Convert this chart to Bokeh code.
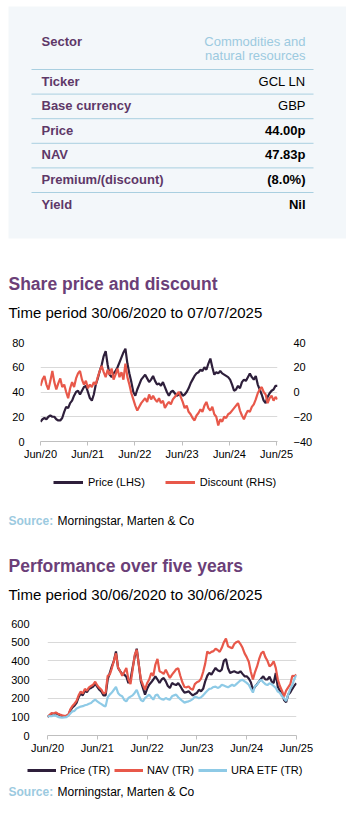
import pandas as pd
from bokeh.plotting import figure
from bokeh.models import (Range1d, LinearAxis, FixedTicker, DatetimeTickFormatter,
                          Legend, LegendItem, ColumnDataSource, Label)
from bokeh.layouts import column
from bokeh.embed import file_html
from bokeh.resources import INLINE
from bokeh.core.properties import value

# ---------------- data ----------------
sector_label = "Sector"
sector_value = ["Commodities and", "natural resources"]
row_labels = ["Ticker", "Base currency", "Price", "NAV", "Premium/(discount)", "Yield"]
row_values = ["GCL LN", "GBP", "44.00p", "47.83p", "(8.0%)", "Nil"]
row_value_styles = ["normal", "normal", "bold", "bold", "bold", "bold"]

tick_labels_years = [2020, 2021, 2022, 2023, 2024, 2025]

# Share price (p, LHS) and discount (%, RHS), 30/06/2020 - 07/07/2025, semi-monthly readings
price1 = [16, 18, 19, 18, 20, 21, 20, 20, 18, 17,
          17, 19, 24, 28, 27, 31, 33, 37, 40, 41,
          38, 41, 44, 45, 40, 35, 33, 38, 46, 51,
          57, 62, 69, 73, 62, 54, 52, 55, 57, 60,
          64, 68, 72, 75, 63, 55, 48, 40, 37, 42,
          46, 50, 52, 54, 51, 48, 50, 53, 49, 46,
          47, 45, 48, 44, 40, 37, 40, 41, 39, 37,
          38, 40, 37, 38, 40, 43, 47, 50, 53, 55,
          56, 58, 57, 60, 58, 63, 67, 60, 54, 56,
          55, 57, 55, 54, 53, 52, 50, 46, 41, 42,
          45, 43, 48, 50, 49, 52, 55, 52, 50, 53,
          46, 42, 38, 33, 31, 36, 39, 41, 42, 45,
          45]
disc1 = [5, 10, 13, 6, 2, 9, 17, 8, 2, 7,
         11, 4, 6, 0, -5, 3, 8, 4, 11, 15,
         17, 10, 6, 9, 3, 6, 4, 8, 6, 12,
         17, 21, 16, 12, 18, 14, 19, 10, 14, 19,
         12, 16, 10, 23, 12, 6, -1, -6, -11, -15,
         -12, -9, -7, -5, -8, -2, -6, -3, -6, -8,
         -5, -9, -7, -13, -10, -8, -10, -6, -4, -2,
         0, -4, -8, -13, -11, -16, -18, -21, -23, -19,
         -17, -14, -16, -11, -8, -13, -15, -12, -18, -20,
         -27, -22, -24, -20, -21, -18, -17, -15, -13, -11,
         -9, -15, -19, -22, -18, -15, -16, -12, -10, -6,
         -1, 2, 4, 0, -2, -9, -5, -3, -7, -4,
         -6]

# Performance (rebased to 100), 30/06/2020 - 30/06/2025, semi-monthly readings
price_tr = [100, 108, 118, 115, 120, 114, 110, 106, 103, 104,
            108, 135, 150, 160, 175, 205, 225, 215, 240, 232,
            250, 255, 262, 278, 260, 245, 235, 215, 215, 300,
            335, 370, 400, 450, 362, 345, 330, 326, 315, 281,
            300, 362, 420, 465, 380, 290, 254, 219, 250, 272,
            285, 300, 317, 300, 281, 300, 308, 290, 265, 254,
            281, 275, 270, 281, 265, 245, 230, 232, 237, 225,
            215, 222, 228, 245, 237, 250, 290, 320, 335, 326,
            345, 362, 350, 344, 353, 400, 410, 360, 335, 340,
            344, 338, 335, 344, 330, 317, 317, 305, 285, 245,
            262, 275, 290, 305, 317, 300, 300, 315, 290, 281,
            335, 260, 240, 228, 190, 178, 219, 230, 250, 268,
            280]
nav_tr = [100, 110, 120, 118, 124, 117, 112, 108, 105, 107,
          111, 140, 158, 170, 185, 215, 235, 225, 250, 240,
          258, 265, 272, 288, 268, 255, 245, 225, 230, 320,
          326, 360, 400, 440, 365, 345, 320, 340, 362, 300,
          275, 350, 430, 460, 380, 300, 272, 245, 280, 300,
          335, 320, 380, 410, 344, 338, 330, 353, 330, 308,
          326, 340, 355, 360, 320, 285, 260, 258, 263, 250,
          245, 275, 285, 290, 305, 340, 385, 450, 440, 448,
          452, 465, 458, 448, 470, 500, 520, 478, 472, 468,
          490, 500, 505, 490, 470, 440, 420, 395, 340, 300,
          340, 370, 410, 440, 450, 420, 400, 370, 380, 398,
          362, 300, 265, 240, 210, 240, 258, 275, 320, 318,
          326]
ura_tr = [100, 104, 103, 108, 106, 100, 97, 96, 97, 98,
          105, 118, 129, 132, 145, 150, 155, 157, 162, 165,
          170, 174, 185, 192, 183, 175, 168, 160, 156, 205,
          219, 230, 245, 260, 228, 215, 210, 190, 183, 201,
          208, 215, 228, 245, 215, 190, 183, 201, 210, 219,
          205, 192, 215, 219, 201, 195, 192, 201, 195, 192,
          210, 215, 219, 205, 195, 185, 176, 180, 183, 188,
          195, 208, 205, 200, 205, 215, 228, 240, 250, 252,
          260, 262, 255, 260, 272, 268, 263, 258, 265, 272,
          265, 275, 285, 295, 298, 290, 282, 272, 250, 230,
          265, 272, 290, 298, 285, 275, 270, 280, 275, 265,
          255, 235, 228, 210, 198, 185, 219, 250, 270, 305,
          322]

dates1 = pd.date_range("2020-06-30", "2025-07-07", periods=len(price1))
dates2 = pd.date_range("2020-06-30", "2025-06-30", periods=len(nav_tr))

# ---------------- style ----------------
W = 346
FONT = "Liberation Sans"
HEAD = "#6b3f78"
LAB = "#5e3868"
LBLUE = "#9ccae0"
PRICE_C = "#2e1f3b"
RED = "#e8584a"
URA_C = "#8ecae6"
GRID = "#d9d9d9"
AXIS = "#bfbfbf"
PANEL = "#f3f7fa"
NAN = float("nan")
LW = 2.2


def canvas(h):
    p = figure(width=W, height=h, x_range=Range1d(0, W), y_range=Range1d(h, 0),
               output_backend="svg", toolbar_location=None, title=None,
               min_border=0, x_axis_location=None, y_axis_location=None,
               frame_align=False)
    p.xgrid.visible = False
    p.ygrid.visible = False
    p.outline_line_color = None
    p.background_fill_color = "white"
    p.border_fill_color = "white"
    return p


def add_label(p, x, y, text, size, color="black", style="normal", align="left"):
    p.add_layout(Label(x=x, y=y, text=text, text_font=FONT, text_font_size=size,
                       text_color=color, text_font_style=style, text_align=align,
                       text_baseline="middle"))


def source_line(p, y):
    add_label(p, 8, y, "Source:", "12px", LBLUE, "bold")
    add_label(p, 57, y, "Morningstar, Marten & Co", "12px", "black")


def add_legend(p, entries, x, y_from_bottom, spacing, glyph_w, standoff):
    items = []
    for lab, col in entries:
        r = p.line(x=[NAN], y=[NAN], line_color=col, line_width=3)
        items.append(LegendItem(label=lab, renderers=[r]))
    leg = Legend(items=items, location=(x, y_from_bottom), orientation="horizontal",
                 border_line_color=None, background_fill_alpha=0, padding=0, margin=0,
                 spacing=spacing, glyph_width=glyph_w, glyph_height=14, label_height=14,
                 label_standoff=standoff, label_text_font=FONT, label_text_font_size="11px",
                 label_text_color="black")
    p.add_layout(leg)


def year_ticks():
    return [pd.Timestamp(f"{y}-06-30").value / 1e6 for y in tick_labels_years]


def style_xaxis(p):
    ax = p.xaxis[0]
    ax.ticker = FixedTicker(ticks=year_ticks())
    ax.formatter = DatetimeTickFormatter(years="%b/%y", months="%b/%y", days="%b/%y")
    ax.axis_line_color = AXIS
    ax.major_tick_line_color = AXIS
    ax.major_tick_in = 0
    ax.major_tick_out = 4
    ax.minor_tick_line_color = None
    ax.major_label_standoff = 2
    ax.major_label_text_font = FONT
    ax.major_label_text_font_size = "11px"
    ax.major_label_text_color = "black"


def style_yaxis(ax, ticks, standoff):
    ax.ticker = FixedTicker(ticks=ticks)
    ax.axis_line_color = None
    ax.major_tick_line_color = None
    ax.minor_tick_line_color = None
    ax.major_label_standoff = standoff
    ax.major_label_text_font = FONT
    ax.major_label_text_font_size = "11px"
    ax.major_label_text_color = "black"


# ---------------- A: table + heading 1 (0-330) ----------------
pa = canvas(330)
pa.quad(left=[8], right=[W], top=[6], bottom=[238], fill_color=PANEL, line_color=None)
sep_y = [69 + 24.6 * k for k in range(len(row_labels))]
pa.segment(x0=[31] * len(sep_y), x1=[313] * len(sep_y), y0=sep_y, y1=sep_y,
           line_color="#a9cfe0", line_width=1)
row_y = [y + 11.5 for y in sep_y]
tsrc = ColumnDataSource(dict(y=row_y, lab=row_labels, val=row_values, st=row_value_styles,
                             xl=[41] * len(row_y), xr=[305] * len(row_y)))
pa.text(x="xl", y="y", text="lab", source=tsrc, text_font=value(FONT), text_font_size="13px",
        text_font_style="bold", text_color=LAB, text_baseline="middle")
pa.text(x="xr", y="y", text="val", source=tsrc, text_font=value(FONT), text_font_size="13px",
        text_font_style="st", text_color="black", text_baseline="middle", text_align="right")
add_label(pa, 41, 41, sector_label, "13px", LAB, "bold")
add_label(pa, 305, 41, sector_value[0], "13px", LBLUE, "normal", "right")
add_label(pa, 305, 55, sector_value[1], "13px", LBLUE, "normal", "right")
add_label(pa, 8, 283, "Share price and discount", "17.5px", HEAD, "bold")
add_label(pa, 8, 312, "Time period 30/06/2020 to 07/07/2025", "15px", "black")

# ---------------- B: chart 1 (330-462) ----------------
p1 = figure(width=W, height=132, x_axis_type="datetime",
            x_range=Range1d(dates1[0].to_pydatetime(), dates1[-1].to_pydatetime()),
            y_range=Range1d(0, 80), output_backend="svg", toolbar_location=None, title=None,
            min_border_left=40, min_border_right=69, min_border_top=12, min_border_bottom=20,
            frame_align=False)
p1.extra_y_ranges = {"disc": Range1d(-40, 40)}
p1.add_layout(LinearAxis(y_range_name="disc"), "right")
p1.outline_line_color = None
p1.xgrid.visible = False
p1.ygrid.grid_line_color = GRID
style_xaxis(p1)
style_yaxis(p1.yaxis[0], [0, 20, 40, 60, 80], 10)
style_yaxis(p1.yaxis[1], [-40, -20, 0, 20, 40], 10)
p1.line(dates1, price1, line_color=PRICE_C, line_width=LW)
p1.line(dates1, disc1, y_range_name="disc", line_color=RED, line_width=LW)

# ---------------- C: legend 1, source 1, heading 2 (462-608) ----------------
pc = canvas(146)
add_legend(pc, [("Price (LHS)", PRICE_C), ("Discount (RHS)", RED)], 53, 146 - 27, 20, 30, 5)
source_line(pc, 58)
add_label(pc, 8, 103, "Performance over five years", "17.5px", HEAD, "bold")
add_label(pc, 8, 132, "Time period 30/06/2020 to 30/06/2025", "15px", "black")

# ---------------- D: chart 2 (608-757) ----------------
p2 = figure(width=W, height=149, x_axis_type="datetime",
            x_range=Range1d(dates2[0].to_pydatetime(), dates2[-1].to_pydatetime()),
            y_range=Range1d(0, 600), output_backend="svg", toolbar_location=None, title=None,
            min_border_left=47, min_border_right=50, min_border_top=15, min_border_bottom=22,
            frame_align=False)
p2.outline_line_color = None
p2.xgrid.visible = False
p2.ygrid.grid_line_color = GRID
style_xaxis(p2)
style_yaxis(p2.yaxis[0], [0, 100, 200, 300, 400, 500, 600], 12)
p2.line(dates2, price_tr, line_color=PRICE_C, line_width=LW)
p2.line(dates2, nav_tr, line_color=RED, line_width=LW)
p2.line(dates2, ura_tr, line_color=URA_C, line_width=LW)

# ---------------- E: legend 2, source 2 (757-822) ----------------
pe = canvas(65)
add_legend(pe, [("Price (TR)", PRICE_C), ("NAV (TR)", RED), ("URA ETF (TR)", URA_C)],
           27, 65 - 20, 4, 29, 4)
source_line(pe, 34)

layout = column(pa, p1, pc, p2, pe, spacing=0)
open("out.html", "w").write(file_html(layout, INLINE))
